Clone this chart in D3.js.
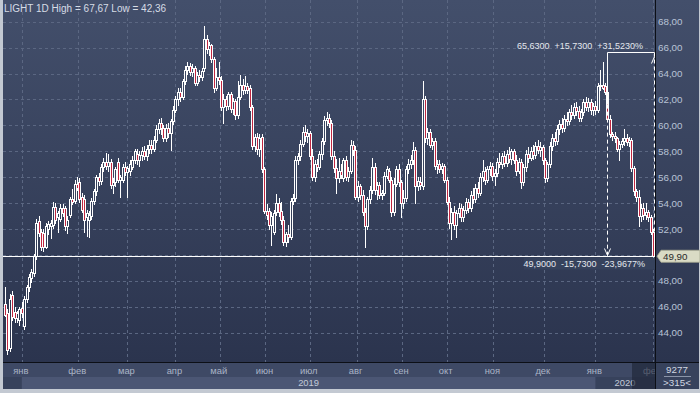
<!DOCTYPE html>
<html><head><meta charset="utf-8">
<script src="https://cdn.jsdelivr.net/npm/d3@7"></script>
<style>html,body{margin:0;padding:0;background:#c3c9d2;overflow:hidden}svg{display:block}</style>
</head><body><svg id="c" width="700" height="393"></svg>
<script>
const opens=[46.2,45.5,42.8,46.9,45.6,45.1,45.0,45.9,44.5,46.6,
47.5,48.2,48.6,49.9,52.6,51.8,51.7,50.6,52.0,52.2,
52.3,53.7,52.9,52.8,53.6,53.6,52.2,53.1,54.3,54.2,
55.5,55.6,54.5,54.3,52.9,52.7,53.0,54.2,54.9,56.0,
55.7,56.8,57.2,56.9,57.2,55.4,55.6,57.2,55.8,55.8,
56.8,56.4,56.5,56.8,57.3,57.8,57.3,57.7,58.0,57.6,
58.2,58.5,58.2,58.9,59.7,60.2,59.8,59.0,59.8,59.4,
60.3,61.2,62.0,62.6,62.2,63.4,64.3,64.6,64.1,64.4,
63.3,63.9,63.7,64.4,66.7,65.9,66.2,65.1,62.9,63.7,
63.5,61.4,62.0,61.5,62.4,61.3,61.9,60.8,62.2,63.1,
62.7,63.0,62.9,61.4,58.4,59.1,58.2,59.1,56.6,53.4,
53.4,52.3,51.8,53.3,54.0,53.4,52.7,51.0,51.6,51.4,
54.2,54.4,57.3,57.6,58.6,59.5,59.2,59.4,57.6,56.0,
57.0,56.8,57.8,58.8,60.4,60.6,60.2,57.6,56.7,55.9,
56.5,55.9,57.3,56.0,56.5,58.5,58.1,54.5,55.3,54.6,
53.3,52.2,54.3,55.0,56.8,55.0,55.4,54.6,54.8,56.1,
56.5,55.8,53.3,55.5,56.6,55.6,54.0,54.4,56.6,57.0,
57.3,58.1,55.3,55.6,55.3,62.0,59.0,59.5,58.5,58.8,
56.9,57.0,56.6,56.9,55.8,54.1,52.5,53.3,52.3,53.2,
53.6,52.9,53.5,54.1,53.6,54.6,54.3,55.2,54.8,56.0,
56.5,55.8,56.6,56.9,56.1,56.3,57.2,57.0,57.6,57.1,
57.8,57.4,58.0,57.3,56.5,57.2,55.6,56.8,57.8,57.5,
58.0,57.7,58.4,58.1,58.3,57.3,55.9,57.0,58.4,59.0,
58.8,59.7,60.1,59.8,60.5,60.3,61.0,60.8,61.4,61.1,
60.6,61.0,61.8,61.4,61.8,61.2,61.5,61.2,63.0,63.1,
63.0,62.6,60.5,59.3,59.2,59.0,58.2,58.6,58.8,59.0,
58.7,58.9,56.7,54.9,54.5,53.0,53.6,53.1,53.3,52.9,51.8];
const highs=[47.5,45.8,47.0,47.2,46.0,45.7,46.0,46.4,46.8,47.7,
48.5,48.9,50.1,52.8,53.0,52.0,52.0,52.5,52.6,52.7,
54.1,54.0,53.4,53.9,53.9,53.8,53.0,54.5,55.1,55.8,
56.0,55.9,54.8,54.6,53.5,53.4,54.4,55.1,56.2,56.3,
57.0,57.5,57.9,57.8,57.4,55.9,56.8,57.5,56.2,57.0,
57.2,56.9,57.3,57.6,58.2,58.2,58.0,58.3,58.4,58.5,
58.9,58.9,59.2,60.0,60.5,60.6,60.0,60.1,60.2,60.5,
61.5,62.3,62.9,62.9,63.6,64.6,64.9,64.8,64.7,64.6,
64.1,64.3,64.4,67.67,67.0,66.4,66.3,65.3,64.4,64.9,
63.8,62.4,62.3,62.6,62.6,62.1,62.0,63.4,63.9,63.6,
63.8,63.3,63.1,61.6,59.3,59.4,59.3,59.3,56.8,53.9,
53.6,53.3,53.5,54.7,54.4,54.1,53.0,51.8,52.3,54.4,
54.7,57.6,57.9,58.9,59.9,60.0,59.7,59.6,58.2,57.3,
57.4,58.0,59.0,60.7,61.0,60.9,60.4,58.0,57.4,57.5,
57.0,57.5,57.6,56.8,58.9,58.8,58.4,55.7,55.5,55.0,
53.6,54.5,55.3,57.5,57.1,55.6,55.6,55.0,56.4,56.9,
56.7,56.0,55.9,56.9,57.0,55.8,55.0,56.9,57.4,57.7,
58.7,58.3,56.0,56.0,63.4,62.3,59.8,59.7,59.0,59.0,
57.3,57.3,57.1,57.0,56.0,54.5,53.6,53.8,53.5,54.0,
53.9,53.8,54.4,54.3,54.9,55.2,55.5,55.6,56.3,57.3,
56.8,56.9,57.2,57.1,56.6,57.5,57.9,57.9,58.0,58.1,
58.3,58.2,58.2,57.7,57.5,57.4,57.0,58.1,58.3,58.3,
58.5,58.7,58.9,58.7,58.5,57.5,57.2,58.7,59.3,59.5,
60.0,60.4,60.6,60.8,61.0,61.3,61.6,61.7,61.8,61.5,
61.3,62.0,62.2,62.1,62.0,61.7,61.9,63.3,64.3,64.9,
63.3,62.8,60.8,59.5,59.5,59.1,58.8,59.0,59.7,59.3,
59.1,59.0,56.9,55.1,55.0,53.9,54.0,54.0,53.5,53.1,52.0];
const lows=[45.3,42.36,42.6,45.0,44.8,44.8,44.6,45.2,44.3,46.4,
47.2,47.9,48.4,49.7,51.5,50.4,50.3,50.5,51.6,51.3,
52.1,52.5,51.8,52.6,53.0,51.9,51.7,52.9,53.9,54.0,
55.0,54.1,53.3,51.8,51.5,51.4,52.8,53.9,54.6,55.4,
55.5,56.5,56.6,56.5,55.2,54.8,55.3,55.6,54.5,55.6,
56.2,54.5,56.2,56.6,57.1,57.0,56.9,57.3,57.4,57.3,
57.9,57.9,58.0,58.7,59.4,59.3,58.8,58.8,59.1,58.1,
60.1,61.0,61.6,61.9,62.0,63.2,64.0,63.9,63.8,63.1,
63.1,63.4,63.5,64.2,65.6,65.4,64.9,62.6,62.7,63.2,
61.2,60.2,61.2,61.3,61.0,60.9,60.5,60.6,62.0,62.4,
62.5,62.5,61.2,58.2,58.0,57.8,57.6,56.4,53.2,52.8,
52.0,50.8,51.6,53.1,53.0,52.4,50.8,50.7,51.0,51.2,
53.9,54.2,57.0,57.3,58.4,58.8,58.7,57.4,55.8,55.7,
56.5,56.6,57.4,58.6,60.0,59.9,57.4,56.4,54.8,55.6,
55.9,55.7,55.8,55.7,56.3,57.7,54.3,54.2,54.3,53.1,
50.6,52.0,54.0,54.8,54.7,54.3,54.4,54.3,54.6,55.9,
55.6,53.0,53.1,55.3,55.3,52.9,53.6,54.2,56.3,56.7,
57.0,54.0,55.0,55.1,55.1,58.7,58.6,58.3,58.2,56.6,
56.3,56.4,56.3,55.6,53.9,52.1,51.2,52.0,51.4,52.9,
52.6,52.6,53.2,53.3,53.4,54.0,54.1,54.5,54.6,55.7,
55.5,55.6,56.2,55.8,55.4,56.1,56.8,56.7,56.9,56.9,
57.2,57.0,57.1,56.2,56.3,55.2,55.4,56.5,57.2,57.3,
57.4,57.5,57.9,57.6,57.0,55.6,55.7,56.8,58.1,58.5,
58.6,59.3,59.5,59.6,60.0,60.1,60.5,60.6,60.8,60.3,
60.3,60.8,61.2,61.1,60.9,60.8,60.9,61.0,62.7,62.8,
62.4,60.3,59.1,58.9,58.7,58.0,57.3,58.3,58.5,58.5,
58.4,56.5,54.6,54.2,52.2,52.6,52.8,52.8,52.6,51.6,49.7];
const closes=[45.4,42.7,46.6,45.2,45.1,45.5,45.8,45.5,46.6,47.5,
48.3,48.7,49.9,52.5,51.7,50.6,50.6,52.2,52.4,52.5,
53.7,52.7,53.2,53.6,53.2,52.2,52.7,54.3,54.1,55.5,
55.2,54.3,53.5,52.7,53.2,53.1,54.2,54.9,56.0,55.7,
56.8,57.2,56.9,57.2,55.4,55.6,56.6,55.8,56.0,56.8,
56.4,56.7,57.0,57.3,58.0,57.3,57.7,58.0,57.6,58.2,
58.5,58.2,58.9,59.7,60.2,59.8,59.0,59.8,59.4,60.3,
61.2,62.0,62.6,62.2,63.4,64.3,64.6,64.1,64.4,63.3,
63.9,63.7,64.2,66.7,65.9,66.2,65.1,62.9,63.7,63.5,
61.4,62.0,61.5,62.4,61.3,61.9,60.8,62.2,63.1,62.7,
63.0,62.7,61.4,58.4,59.1,58.2,59.0,56.6,53.4,53.1,
52.3,53.0,53.2,54.0,53.3,52.7,51.0,51.6,51.4,54.2,
54.4,57.3,57.6,58.6,59.5,59.2,59.4,57.6,56.0,57.0,
56.8,57.8,58.8,60.4,60.6,60.2,57.6,56.7,55.9,56.5,
56.2,57.3,56.0,56.5,58.5,58.1,54.5,55.3,54.6,53.3,
52.2,54.3,55.0,56.8,55.0,55.4,54.6,54.8,56.1,56.6,
55.8,53.3,55.5,56.6,55.6,54.0,54.4,56.6,57.0,57.3,
58.1,55.3,55.7,55.4,62.0,59.0,59.5,58.5,58.8,56.9,
57.0,56.6,56.9,55.8,54.1,52.5,53.3,52.3,53.2,53.6,
52.9,53.5,54.1,53.6,54.6,54.3,55.2,54.8,56.0,56.5,
55.8,56.6,56.9,56.1,56.3,57.2,57.0,57.6,57.1,57.8,
57.4,58.0,57.3,56.5,57.2,55.6,56.8,57.8,57.5,58.0,
57.7,58.4,58.1,58.3,57.3,55.9,57.0,58.4,59.0,58.8,
59.7,60.1,59.8,60.5,60.3,61.0,60.8,61.4,61.1,60.6,
61.0,61.8,61.4,61.8,61.2,61.5,61.2,63.0,63.1,62.9,
62.6,60.5,59.3,59.2,59.0,58.2,58.6,58.8,59.0,58.7,
58.9,56.7,54.9,54.5,53.0,53.6,53.1,53.3,52.9,51.8,49.9];

const monthLabels=["янв","фев","мар","апр","май","июн","июл","авг","сен","окт","ноя","дек","янв","фев"];
const monthPos=[7,30.5,51,71,89.5,108.5,127,146.5,165.5,184,203.5,224.5,246,270];
const yearLabels=["2019","2020"];
const yTicks=[44,46,48,50,52,54,56,58,60,62,64,66,68];
const titleText="LIGHT 1D High = 67,67 Low = 42,36";
const lastPrice=49.90, lastPriceText="49,90";
const measureHigh=65.63, measureStart=251, measureEnd=270;
const topNote="65,6300  +15,7300  +31,5230%";
const bottomNote="49,9000  -15,7300  -23,9677%";
const footTop="9277", footBottom=">315<";

const svg=d3.select("#c");
const FONT="'Liberation Sans', Arial, sans-serif";
const plotL=3, plotR=655, plotB=362, panelR=699, panelB=389;
const x=d3.scaleLinear().domain([0,closes.length-1]).range([5,653]);
const y=d3.scaleLinear().domain([44,68]).range([332.7,21.7]);

const defs=svg.append("defs");
const g=defs.append("linearGradient").attr("id","bg").attr("gradientUnits","userSpaceOnUse")
  .attr("x1",0).attr("y1",0).attr("x2",0).attr("y2",plotB);
g.append("stop").attr("offset",0).attr("stop-color","#434f6b");
g.append("stop").attr("offset",1).attr("stop-color","#2b344e");
defs.append("clipPath").attr("id","plotClip").append("rect").attr("x",plotL).attr("y",0).attr("width",plotR-plotL).attr("height",plotB);
defs.append("clipPath").attr("id","botClip").append("rect").attr("x",plotL).attr("y",plotB).attr("width",plotR-plotL).attr("height",panelB-plotB);

// panels
svg.append("rect").attr("x",plotL).attr("y",0).attr("width",panelR-plotL).attr("height",panelB).attr("fill","#37425c");
svg.append("rect").attr("x",plotL).attr("y",0).attr("width",panelR-plotL).attr("height",plotB).attr("fill","url(#bg)");

const plot=svg.append("g").attr("clip-path","url(#plotClip)");
// grid
plot.selectAll(".hg").data(yTicks).join("line")
  .attr("x1",plotL).attr("x2",plotR)
  .attr("y1",d=>Math.round(y(d))+0.5).attr("y2",d=>Math.round(y(d))+0.5)
  .attr("stroke","#5b6782").attr("stroke-dasharray","3,3");
plot.selectAll(".vg").data(monthPos).join("line")
  .attr("x1",d=>Math.round(x(d))+0.5).attr("x2",d=>Math.round(x(d))+0.5)
  .attr("y1",0).attr("y2",plotB)
  .attr("stroke","#5b6782").attr("stroke-dasharray","3,3");

// candles
const idx=d3.range(closes.length);
const cg=plot.append("g");
idx.forEach(i=>{
  const px=Math.round(x(i));
  const yo=y(opens[i]), yc=y(closes[i]), yh=y(highs[i]), yl=y(lows[i]);
  const top=Math.round(Math.min(yo,yc)), bot=Math.round(Math.max(yo,yc));
  cg.append("line").attr("x1",px+0.5).attr("x2",px+0.5).attr("y1",Math.round(yh)).attr("y2",Math.round(yl)+1)
    .attr("stroke","#ffffff").attr("stroke-width",1);
  const down=closes[i]<opens[i];
  cg.append("rect").attr("x",px-0.5).attr("y",top+0.5).attr("width",2).attr("height",Math.max(1,bot-top))
    .attr("fill",down?"#c02640":"url(#bg)").attr("stroke","#ffffff").attr("stroke-width",1);
});

// last price line
const yLast=Math.round(y(lastPrice))+0.5;
plot.append("line").attr("x1",plotL).attr("x2",plotR).attr("y1",yLast).attr("y2",yLast).attr("stroke","#ffffff").attr("stroke-width",1.2);

// measurement annotation
const yTop=Math.round(y(measureHigh))+0.5;
const xa=Math.round(x(measureStart))+0.5, xb=Math.round(x(measureEnd))+1.5;
plot.append("line").attr("x1",xa).attr("x2",xb).attr("y1",yTop).attr("y2",yTop).attr("stroke","#fff");
plot.append("line").attr("x1",xa).attr("x2",xa).attr("y1",yTop).attr("y2",y(61.6)).attr("stroke","#fff");
plot.append("line").attr("x1",xa).attr("x2",xa).attr("y1",y(61.6)).attr("y2",yLast).attr("stroke","#fff").attr("stroke-dasharray","4,3");
plot.append("path").attr("d",`M${xa-3},${yLast-8} L${xa},${yLast-1} L${xa+3},${yLast-8}`).attr("fill","none").attr("stroke","#fff");
plot.append("line").attr("x1",xb).attr("x2",xb).attr("y1",yTop).attr("y2",yLast).attr("stroke","#fff").attr("stroke-dasharray","4,3");
plot.append("path").attr("d",`M${xb-3},${yTop+11} L${xb},${yTop+4} L${xb+3},${yTop+11}`).attr("fill","none").attr("stroke","#fff");

svg.append("text").attr("x",643).attr("y",yTop-4).attr("text-anchor","end").style("white-space","pre")
  .attr("font-family",FONT).attr("font-size",9).attr("fill","#e4e8ee").text(topNote);
svg.append("rect").attr("x",524).attr("y",yLast+1).attr("width",plotR-524).attr("height",12).attr("fill","#36425c");
svg.append("text").attr("x",645).attr("y",yLast+10).attr("text-anchor","end").style("white-space","pre")
  .attr("font-family",FONT).attr("font-size",9).attr("fill","#e4e8ee").text(bottomNote);

// title
svg.append("text").attr("x",4).attr("y",12).attr("font-family",FONT).attr("font-size",10)
  .attr("fill","#d6dce6").text(titleText);

// y axis labels
svg.selectAll(".yl").data(yTicks.filter(d=>Math.abs(d-lastPrice)>0.8)).join("text")
  .attr("x",658).attr("y",d=>y(d)+3.5).attr("font-family",FONT).attr("font-size",9.8)
  .attr("fill","#b8c3d6").text(d=>d3.format(".2f")(d).replace(".",","));

// bottom axis rows
const bot=svg.append("g").attr("clip-path","url(#botClip)");
bot.append("rect").attr("x",plotL).attr("y",plotB).attr("width",plotR-plotL).attr("height",15).attr("fill","#3e4965");
bot.append("rect").attr("x",plotL).attr("y",377).attr("width",plotR-plotL).attr("height",panelB-377).attr("fill","#37425c");
bot.append("rect").attr("x",x(monthPos[0])).attr("y",377).attr("width",x(monthPos[12])-x(monthPos[0])).attr("height",panelB-377).attr("fill","#4b5674");
bot.selectAll(".ml").data(monthLabels).join("text")
  .attr("x",(d,i)=>x(monthPos[i])-1).attr("y",374).attr("text-anchor","middle")
  .attr("font-family",FONT).attr("font-size",9.4).attr("fill","#aab4c6").text(d=>d);
bot.append("text").attr("x",(x(monthPos[0])+x(monthPos[12]))/2).attr("y",386).attr("text-anchor","middle")
  .attr("font-family",FONT).attr("font-size",9.4).attr("fill","#c2cad8").text(yearLabels[0]);
bot.append("text").attr("x",625).attr("y",386).attr("text-anchor","middle")
  .attr("font-family",FONT).attr("font-size",9.4).attr("fill","#c2cad8").text(yearLabels[1]);
bot.append("rect").attr("x",632).attr("y",plotB).attr("width",plotR-632).attr("height",panelB-plotB).attr("fill","rgba(28,35,52,0.6)");

// axis lines
svg.append("line").attr("x1",plotL).attr("x2",panelR).attr("y1",plotB+0.5).attr("y2",plotB+0.5).attr("stroke","#0c0f16");
svg.append("line").attr("x1",plotR+0.5).attr("x2",plotR+0.5).attr("y1",0).attr("y2",panelB).attr("stroke","#0c0f16");

// price tag
const ty=y(lastPrice);
svg.append("path").attr("d",`M657,${ty} L661,${ty-6} L700,${ty-6} L700,${ty+6} L661,${ty+6} Z`)
  .attr("fill","#dadbc5").attr("stroke","#a6a890").attr("stroke-width",0.8);
svg.append("text").attr("x",663).attr("y",ty+3.5).attr("font-family",FONT).attr("font-size",9.8)
  .attr("fill","#2a2a2a").text(lastPriceText);

// footer box
svg.append("text").attr("x",677).attr("y",373).attr("text-anchor","middle").attr("font-family",FONT).attr("font-size",9.8).attr("fill","#d0d7e2").text(footTop);
svg.append("line").attr("x1",664).attr("x2",691).attr("y1",376.5).attr("y2",376.5).attr("stroke","#8a94a8");
svg.append("text").attr("x",677).attr("y",386).attr("text-anchor","middle").attr("font-family",FONT).attr("font-size",9.8).attr("fill","#d0d7e2").text(footBottom);
</script></body></html>
